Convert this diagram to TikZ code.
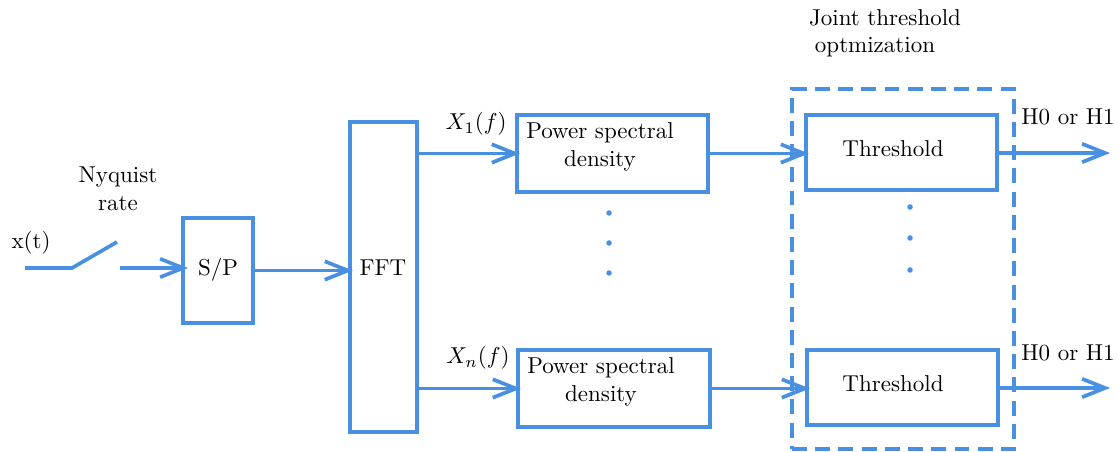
\documentclass[tikz,border=0pt]{standalone}
\usetikzlibrary{arrows.meta}
\definecolor{lblue}{RGB}{74,144,226}
\begin{document}
\begin{tikzpicture}[x=0.435pt,y=-0.435pt,
  line width=1.6pt,
  box/.style={draw=lblue,line width=1.6pt,inner sep=0pt},
  conn/.style={draw=lblue,line width=1.6pt,-{Straight Barb[length=10pt,width=8pt,line width=1.6pt]}},
  wire/.style={draw=lblue,line width=1.6pt},
  lbl/.style={inner sep=0pt,text=black},
  dotc/.style={fill=lblue,circle,inner sep=0pt,minimum size=2.4pt}]
\useasboundingbox (0,0) rectangle (1119,452);
% boxes
\node[box,minimum width={70*0.435pt},minimum height={105*0.435pt}] (sp) at (218,270.5) {};
\node[box,minimum width={67*0.435pt},minimum height={310*0.435pt}] (fft) at (383.5,277) {};
\node[box,minimum width={191*0.435pt},minimum height={77*0.435pt}] (psd1) at (612.5,153.5) {};
\node[box,minimum width={192*0.435pt},minimum height={77*0.435pt}] (psd2) at (614,388.5) {};
\node[box,minimum width={191*0.435pt},minimum height={75*0.435pt}] (th1) at (901.5,152.5) {};
\node[box,minimum width={191*0.435pt},minimum height={75*0.435pt}] (th2) at (902.5,387.5) {};
\node[draw=lblue,line width=1.6pt,dash pattern=on 6.5pt off 3.6pt,inner sep=0pt,
  minimum width={222*0.435pt},minimum height={360*0.435pt}] (joint) at (903,269) {};
% texts
\node[lbl] (splbl) at (218,270) {S/P};
\node[lbl] (fftlbl) at (383,268) {FFT};
\node[lbl,align=center] (psd1lbl) at (600,147) {Power spectral\\density};
\node[lbl,align=center] (psd2lbl) at (601,382) {Power spectral\\density};
\node[lbl] (th1lbl) at (893,149) {Threshold};
\node[lbl] (th2lbl) at (893,384) {Threshold};
\node[lbl] (xt) at (31,243) {x(t)};
\node[lbl,align=center] (nyq) at (118,189) {Nyquist\\rate};
\node[lbl] (x1) at (476,124) {$X_1(f)$};
\node[lbl] (xn) at (478,358) {$X_n(f)$};
\node[lbl] (jt1) at (885,18) {Joint threshold};
\node[lbl] (jt2) at (875,47) {optmization};
\node[lbl] (h1) at (1068,117) {H0 or H1};
\node[lbl] (h2) at (1068,353) {H0 or H1};
% dots
\foreach \y [count=\i] in {213,243,273} \node[dotc] (da\i) at (609,\y) {};
\foreach \y [count=\i] in {207,238,270} \node[dotc] (db\i) at (910,\y) {};
% switch
\coordinate (in0) at (25,268);
\coordinate (in1) at (72,268);
\coordinate (sw) at (117,242);
\coordinate (sw2) at (120,268);
\draw[wire] (in0) -- (in1) -- (sw);
\draw[conn] (sw2) -- ([xshift=3pt]sp.west |- sw2);
\draw[conn] (sp.east) -- ([xshift=2pt]fft.west |- sp.east);
\draw[conn] (fft.east |- psd1.west) -- ([xshift=2pt]psd1.west);
\draw[conn] (fft.east |- psd2.west) -- ([xshift=2pt]psd2.west);
\draw[conn] (psd1.east) -- ([xshift=2pt]th1.west |- psd1.east);
\draw[conn] (psd2.east) -- ([xshift=2pt]th2.west |- psd2.east);
\coordinate (o1) at (1110,153);
\coordinate (o2) at (1110,388);
\draw[conn] (th1.east |- o1) -- (o1);
\draw[conn] (th2.east |- o2) -- (o2);
\end{tikzpicture}
\end{document}
